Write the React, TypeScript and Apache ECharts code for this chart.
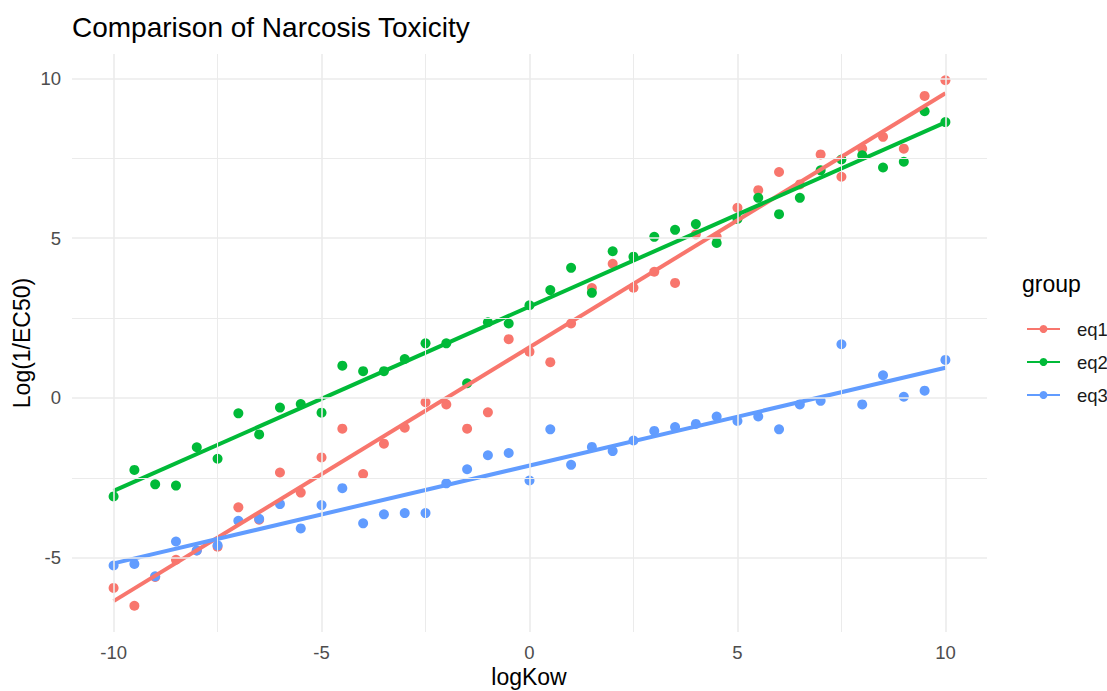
import React, { useEffect, useRef } from "react";
import * as echarts from "echarts";

// logKow values shared by every group
const logKow = [
  -10, -9.5, -9, -8.5, -8, -7.5, -7, -6.5, -6, -5.5, -5, -4.5, -4, -3.5, -3, -2.5, -2, -1.5, -1, -0.5,
  0, 0.5, 1, 1.5, 2, 2.5, 3, 3.5, 4, 4.5, 5, 5.5, 6, 6.5, 7, 7.5, 8, 8.5, 9, 9.5, 10,
];

// Log(1/EC50) per group
const eq1 = [
  -5.94, -6.5, -5.6, -5.06, -4.77, -4.65, -3.42, -3.81, -2.33, -2.96, -1.86, -0.96, -2.38, -1.43, -0.93,
  -0.13, -0.2, -0.96, -0.45, 1.84, 1.45, 1.12, 2.33, 3.44, 4.2, 3.45, 3.95, 3.6, 5.12, 5.04, 5.95, 6.5,
  7.07, 6.68, 7.62, 6.92, 7.8, 8.17, 7.8, 9.45, 9.94,
];
const eq2 = [
  -3.08, -2.25, -2.7, -2.74, -1.54, -1.9, -0.48, -1.14, -0.3, -0.19, -0.46, 1.01, 0.84, 0.84, 1.22, 1.71,
  1.71, 0.46, 2.37, 2.33, 2.9, 3.375, 4.07, 3.29, 4.59, 4.42, 5.04, 5.26, 5.44, 4.85, 5.6, 6.26, 5.75,
  6.26, 7.12, 7.46, 7.59, 7.21, 7.39, 8.97, 8.63,
];
const eq3 = [
  -5.24, -5.19, -5.58, -4.49, -4.77, -4.61, -3.84, -3.78, -3.32, -4.08, -3.35, -2.82, -3.92, -3.64, -3.6,
  -3.6, -2.67, -2.23, -1.79, -1.72, -2.58, -0.98, -2.09, -1.53, -1.66, -1.33, -1.03, -0.91, -0.81, -0.58,
  -0.72, -0.58, -0.98, -0.2, -0.09, 1.68, -0.2, 0.71, 0.04, 0.23, 1.19,
];

const groupNames = ["eq1", "eq2", "eq3"];
const groupColors = ["#F8766D", "#00BA38", "#619CFF"];

const xMajorTicks = [-10, -5, 0, 5, 10];
const xMinorTicks = [-7.5, -2.5, 2.5, 7.5];
const yMajorTicks = [-5, 0, 5, 10];
const yMinorTicks = [-2.5, 2.5, 7.5];

const FONT = "'Liberation Sans', Arial, Helvetica, sans-serif";

// ordinary least squares fit, evaluated at the ends of the x range
function fitLine(xs: number[], ys: number[]): number[][] {
  const n = xs.length;
  const mx = xs.reduce((a, b) => a + b, 0) / n;
  const my = ys.reduce((a, b) => a + b, 0) / n;
  let sxy = 0;
  let sxx = 0;
  for (let i = 0; i < n; i++) {
    sxy += (xs[i] - mx) * (ys[i] - my);
    sxx += (xs[i] - mx) * (xs[i] - mx);
  }
  const slope = sxy / sxx;
  const icpt = my - slope * mx;
  const x0 = Math.min(...xs);
  const x1 = Math.max(...xs);
  return [
    [x0, icpt + slope * x0],
    [x1, icpt + slope * x1],
  ];
}

export default function App() {
  const ref = useRef<HTMLDivElement>(null);

  useEffect(() => {
    if (!ref.current) return;
    const chart = echarts.init(ref.current, undefined, { renderer: "svg" });
    const groups = [eq1, eq2, eq3];

    const gridLines = [
      ...xMajorTicks.map((v) => ({ xAxis: v, lineStyle: { width: 1.6 } })),
      ...xMinorTicks.map((v) => ({ xAxis: v, lineStyle: { width: 1 } })),
      ...yMajorTicks.map((v) => ({ yAxis: v, lineStyle: { width: 1.6 } })),
      ...yMinorTicks.map((v) => ({ yAxis: v, lineStyle: { width: 1 } })),
    ];

    const fitSeries = groups.map((ys, i) => ({
      name: groupNames[i],
      type: "line",
      data: fitLine(logKow, ys),
      symbol: "circle",
      showSymbol: false,
      lineStyle: { color: groupColors[i], width: 4 },
      itemStyle: { color: groupColors[i] },
      z: 4,
      silent: true,
    }));

    const pointSeries = groups.map((ys, i) => ({
      name: groupNames[i],
      type: "scatter",
      data: logKow.map((x, j) => [x, ys[j]]),
      symbol: "circle",
      symbolSize: 10,
      itemStyle: { color: groupColors[i], opacity: 1 },
      z: 3,
      clip: false,
    }));

    chart.setOption({
      animation: false,
      backgroundColor: "#ffffff",
      textStyle: { fontFamily: FONT },
      title: {
        text: "Comparison of Narcosis Toxicity",
        left: 67,
        top: 8,
        textStyle: { fontFamily: FONT, fontSize: 28, fontWeight: "normal", color: "#000000" },
      },
      grid: { left: 72, right: 120, top: 54, bottom: 59 },
      xAxis: {
        type: "value",
        min: -11,
        max: 11,
        axisLine: { show: false },
        axisTick: { show: false },
        splitLine: { show: false },
        axisLabel: {
          customValues: xMajorTicks,
          color: "#4d4d4d",
          fontSize: 18.5,
          fontFamily: FONT,
          margin: 11,
        },
      },
      yAxis: {
        type: "value",
        min: -7.32,
        max: 10.76,
        axisLine: { show: false },
        axisTick: { show: false },
        splitLine: { show: false },
        axisLabel: {
          customValues: yMajorTicks,
          color: "#4d4d4d",
          fontSize: 18.5,
          fontFamily: FONT,
          margin: 11,
        },
      },
      legend: {
        data: groupNames,
        orient: "vertical",
        left: 1021,
        top: 314,
        itemWidth: 33,
        itemHeight: 10,
        itemGap: 13,
        selectedMode: false,
        textStyle: { fontFamily: FONT, fontSize: 18.5, color: "#1a1a1a", lineHeight: 20, padding: [0, 0, 0, 12] },
      },
      graphic: [
        {
          type: "text",
          left: 1022,
          top: 272,
          style: { text: "group", fontFamily: FONT, fontSize: 23, fill: "#000000" },
        },
        {
          type: "text",
          x: 529,
          y: 677,
          style: {
            text: "logKow",
            fontFamily: FONT,
            fontSize: 23,
            fill: "#000000",
            align: "center",
            verticalAlign: "middle",
          },
        },
        {
          type: "text",
          x: 22,
          y: 343,
          rotation: Math.PI / 2,
          style: {
            text: "Log(1/EC50)",
            fontFamily: FONT,
            fontSize: 23,
            fill: "#000000",
            align: "center",
            verticalAlign: "middle",
          },
        },
      ],
      series: [
        ...fitSeries,
        ...pointSeries,
        {
          name: "gridlines",
          type: "line",
          data: [],
          z: 1,
          silent: true,
          markLine: {
            silent: true,
            symbol: ["none", "none"],
            label: { show: false },
            lineStyle: { color: "#ebebeb", type: "solid" },
            emphasis: { disabled: true },
            data: gridLines,
          },
        },
      ],
    });

    return () => chart.dispose();
  }, []);

  return (
    <div
      ref={ref}
      style={{ position: "fixed", left: 0, top: 0, width: 1107, height: 691, background: "#ffffff" }}
    />
  );
}
